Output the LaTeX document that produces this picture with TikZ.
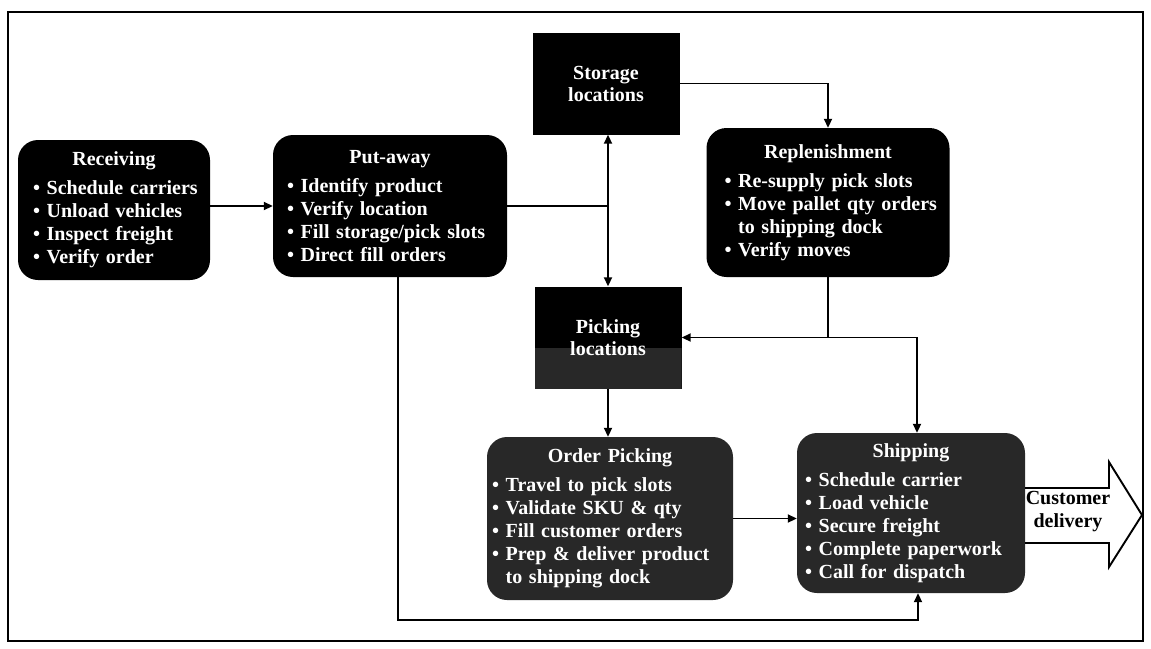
\documentclass[tikz,border=0pt]{standalone}
\usepackage{fontspec}
\setmainfont{Liberation Serif}
\usetikzlibrary{arrows.meta,calc}

\definecolor{boxdark}{HTML}{282828}

% text helpers for the process boxes
\newcommand\boxtitle[1]{{\centering #1\par}\vspace{6pt}}
\newcommand\blist[2]{{\raggedright\leftskip=#1\relax #2\par}}
\newcommand\bitem{\textbullet\ }
\newcommand\bcont{\hphantom{\textbullet\ }}

\tikzset{
  boxfont/.style={font=\bfseries\fontsize{20}{23}\selectfont},
  proc/.style={boxfont, fill=black, text=white, rounded corners=20pt,
    inner sep=0pt, execute at begin node={\parindent=0pt}},
  loc/.style={font=\bfseries\fontsize{20}{22}\selectfont, fill=black, text=white,
    align=center, inner sep=0pt, minimum width=147pt, minimum height=102pt},
  conn/.style={draw, line width=1.9pt, -{Triangle[length=9pt,width=8pt]}},
  wire/.style={draw, line width=1.9pt},
}

\begin{document}
\begin{tikzpicture}[x=1pt, y=-1pt]
  \fill[white] (0,0) rectangle (1151,648);
  \useasboundingbox (0,0) rectangle (1151,648);

  % outer frame
  \draw[line width=2.2pt] (8,12) rectangle (1143,641);

  % process boxes
  \node[proc, minimum width=192pt, minimum height=140pt, text width=192pt] (recv) at (114,210)
    {\boxtitle{Receiving}\blist{15pt}{\bitem Schedule carriers\\ \bitem Unload vehicles\\ \bitem Inspect freight\\ \bitem Verify order}};

  \node[proc, minimum width=234pt, minimum height=142pt, text width=234pt] (put) at (390,206)
    {\boxtitle{Put-away}\blist{14pt}{\bitem Identify product\\ \bitem Verify location\\ \bitem Fill storage/pick slots\\ \bitem Direct fill orders}};

  \node[proc, minimum width=243pt, minimum height=149pt, text width=243pt] (rep) at (828,202.5)
    {\boxtitle{Replenishment}\blist{18pt}{\bitem Re-supply pick slots\\ \bitem Move pallet qty orders\\ \bcont to shipping dock\\ \bitem Verify moves}};

  \node[proc, fill=boxdark, minimum width=246pt, minimum height=163pt, text width=246pt] (ord) at (610,518.5)
    {\boxtitle{Order Picking}\blist{5pt}{\bitem Travel to pick slots\\ \bitem Validate SKU \& qty\\ \bitem Fill customer orders\\ \bitem Prep \& deliver product\\ \bcont to shipping dock}};

  \node[proc, fill=boxdark, minimum width=228pt, minimum height=160pt, text width=228pt] (ship) at (911,513)
    {\boxtitle{Shipping}\blist{8pt}{\bitem Schedule carrier\\ \bitem Load vehicle\\ \bitem Secure freight\\ \bitem Complete paperwork\\ \bitem Call for dispatch}};

  % location boxes
  \node[loc] (stor) at (606,83.5) {Storage\\locations};
  \node[loc, path picture={\fill[boxdark] ([yshift=-10pt]path picture bounding box.west)
      rectangle (path picture bounding box.south east);}] (pick) at (608,337.5) {Picking\\locations};

  % receiving to put-away
  \draw[conn] (recv.east |- put.west) -- (put.west);

  % put-away to storage and picking
  \coordinate (jn) at (put.east -| pick.north);
  \draw[wire] (put.east) -- (jn);
  \draw[conn] (jn) -- (jn |- stor.south);
  \draw[conn] (jn) -- (pick.north);

  % storage to replenishment
  \draw[conn] (stor.east) -| (rep.north);

  % replenishment to picking and shipping
  \coordinate (rj) at (rep.south |- pick.east);
  \coordinate (st) at ([xshift=6pt]ship.north);
  \draw[wire] (rep.south) -- (rj);
  \draw[conn] (rj) -- (pick.east);
  \draw[conn] (rj) -| (st);

  % picking to order picking to shipping
  \draw[conn] (pick.south) -- (pick.south |- ord.north);
  \draw[conn] (ord.east) -- (ord.east -| ship.west);

  % direct fill from put-away to shipping
  \coordinate (pb) at ([xshift=8pt]put.south);
  \coordinate (sb) at ([xshift=7pt]ship.south);
  \coordinate (lb) at (0,620);
  \draw[conn] (pb) |- (lb -| sb) -- (sb);

  % customer delivery arrow
  \draw[line width=1.9pt, line join=miter]
    ($(ship.east)+(0,-25)$) -- (1109,488) -- (1109,462) -- (1142,515)
    -- (1109,567) -- (1109,543) -- ($(ship.east)+(0,30)$);
  \node[boxfont, align=center, inner sep=0pt] (cust) at (1068,512) {Customer\\delivery};
\end{tikzpicture}
\end{document}
